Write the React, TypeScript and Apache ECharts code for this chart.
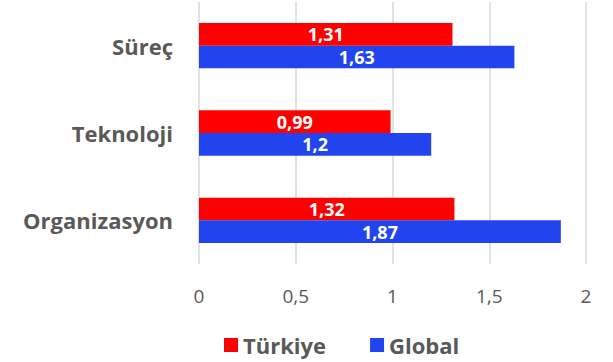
import React, { useEffect, useRef } from "react";
import * as echarts from "echarts";

// Categories listed bottom to top on the vertical axis
const categories = ["Organizasyon", "Teknoloji", "Süreç"];
const turkiyeValues = [1.32, 0.99, 1.31];
const globalValues = [1.87, 1.2, 1.63];
const seriesNames = ["Türkiye", "Global"];
const xTicks = { min: 0, max: 2, interval: 0.5 };

const FONT = "'Open Sans', sans-serif";
const TEXT_GRAY = "#595959";
const RED = "#FF0000";
const BLUE = "#2244EE";

const fmt = (v: number) => String(v).replace(".", ",");

export default function App() {
  const ref = useRef<HTMLDivElement>(null);

  useEffect(() => {
    if (!ref.current) return;
    const chart = echarts.init(ref.current, undefined, { renderer: "svg" });
    const labelStyle = {
      show: true,
      position: "inside" as const,
      color: "#ffffff",
      fontFamily: FONT,
      fontWeight: "bold" as const,
      fontSize: 18,
      formatter: (p: any) => fmt(p.value),
    };
    chart.setOption({
      animation: false,
      backgroundColor: "#ffffff",
      grid: { left: 199, top: 2, width: 387, height: 262, containLabel: false },
      legend: {
        data: seriesNames,
        left: 224,
        top: 332,
        padding: 0,
        icon: "rect",
        itemWidth: 14,
        itemHeight: 14,
        itemGap: 44,
        textStyle: {
          fontFamily: FONT,
          fontSize: 22,
          fontWeight: "bold",
          color: TEXT_GRAY,
          lineHeight: 26,
        },
      },
      xAxis: {
        type: "value",
        min: xTicks.min,
        max: xTicks.max,
        interval: xTicks.interval,
        axisLine: { show: false },
        axisTick: { show: false },
        splitLine: { lineStyle: { color: "#d9d9d9", width: 1.5 } },
        axisLabel: {
          margin: 22,
          fontFamily: FONT,
          fontSize: 19,
          color: TEXT_GRAY,
          formatter: (v: number) => fmt(v),
        },
      },
      yAxis: {
        type: "category",
        data: categories,
        axisLine: { show: false },
        axisTick: { show: false },
        axisLabel: {
          margin: 26,
          fontFamily: FONT,
          fontSize: 22,
          fontWeight: "bold",
          color: TEXT_GRAY,
        },
      },
      series: [
        {
          name: seriesNames[0],
          type: "bar",
          data: turkiyeValues,
          itemStyle: { color: RED },
          barGap: "0%",
          barCategoryGap: "48%",
          label: labelStyle,
        },
        {
          name: seriesNames[1],
          type: "bar",
          data: globalValues,
          itemStyle: { color: BLUE },
          barGap: "0%",
          barCategoryGap: "48%",
          label: labelStyle,
        },
      ],
    });
    return () => chart.dispose();
  }, []);

  return (
    <div
      ref={ref}
      style={{ position: "fixed", left: 0, top: 0, width: 613, height: 362, background: "#fff" }}
    />
  );
}
